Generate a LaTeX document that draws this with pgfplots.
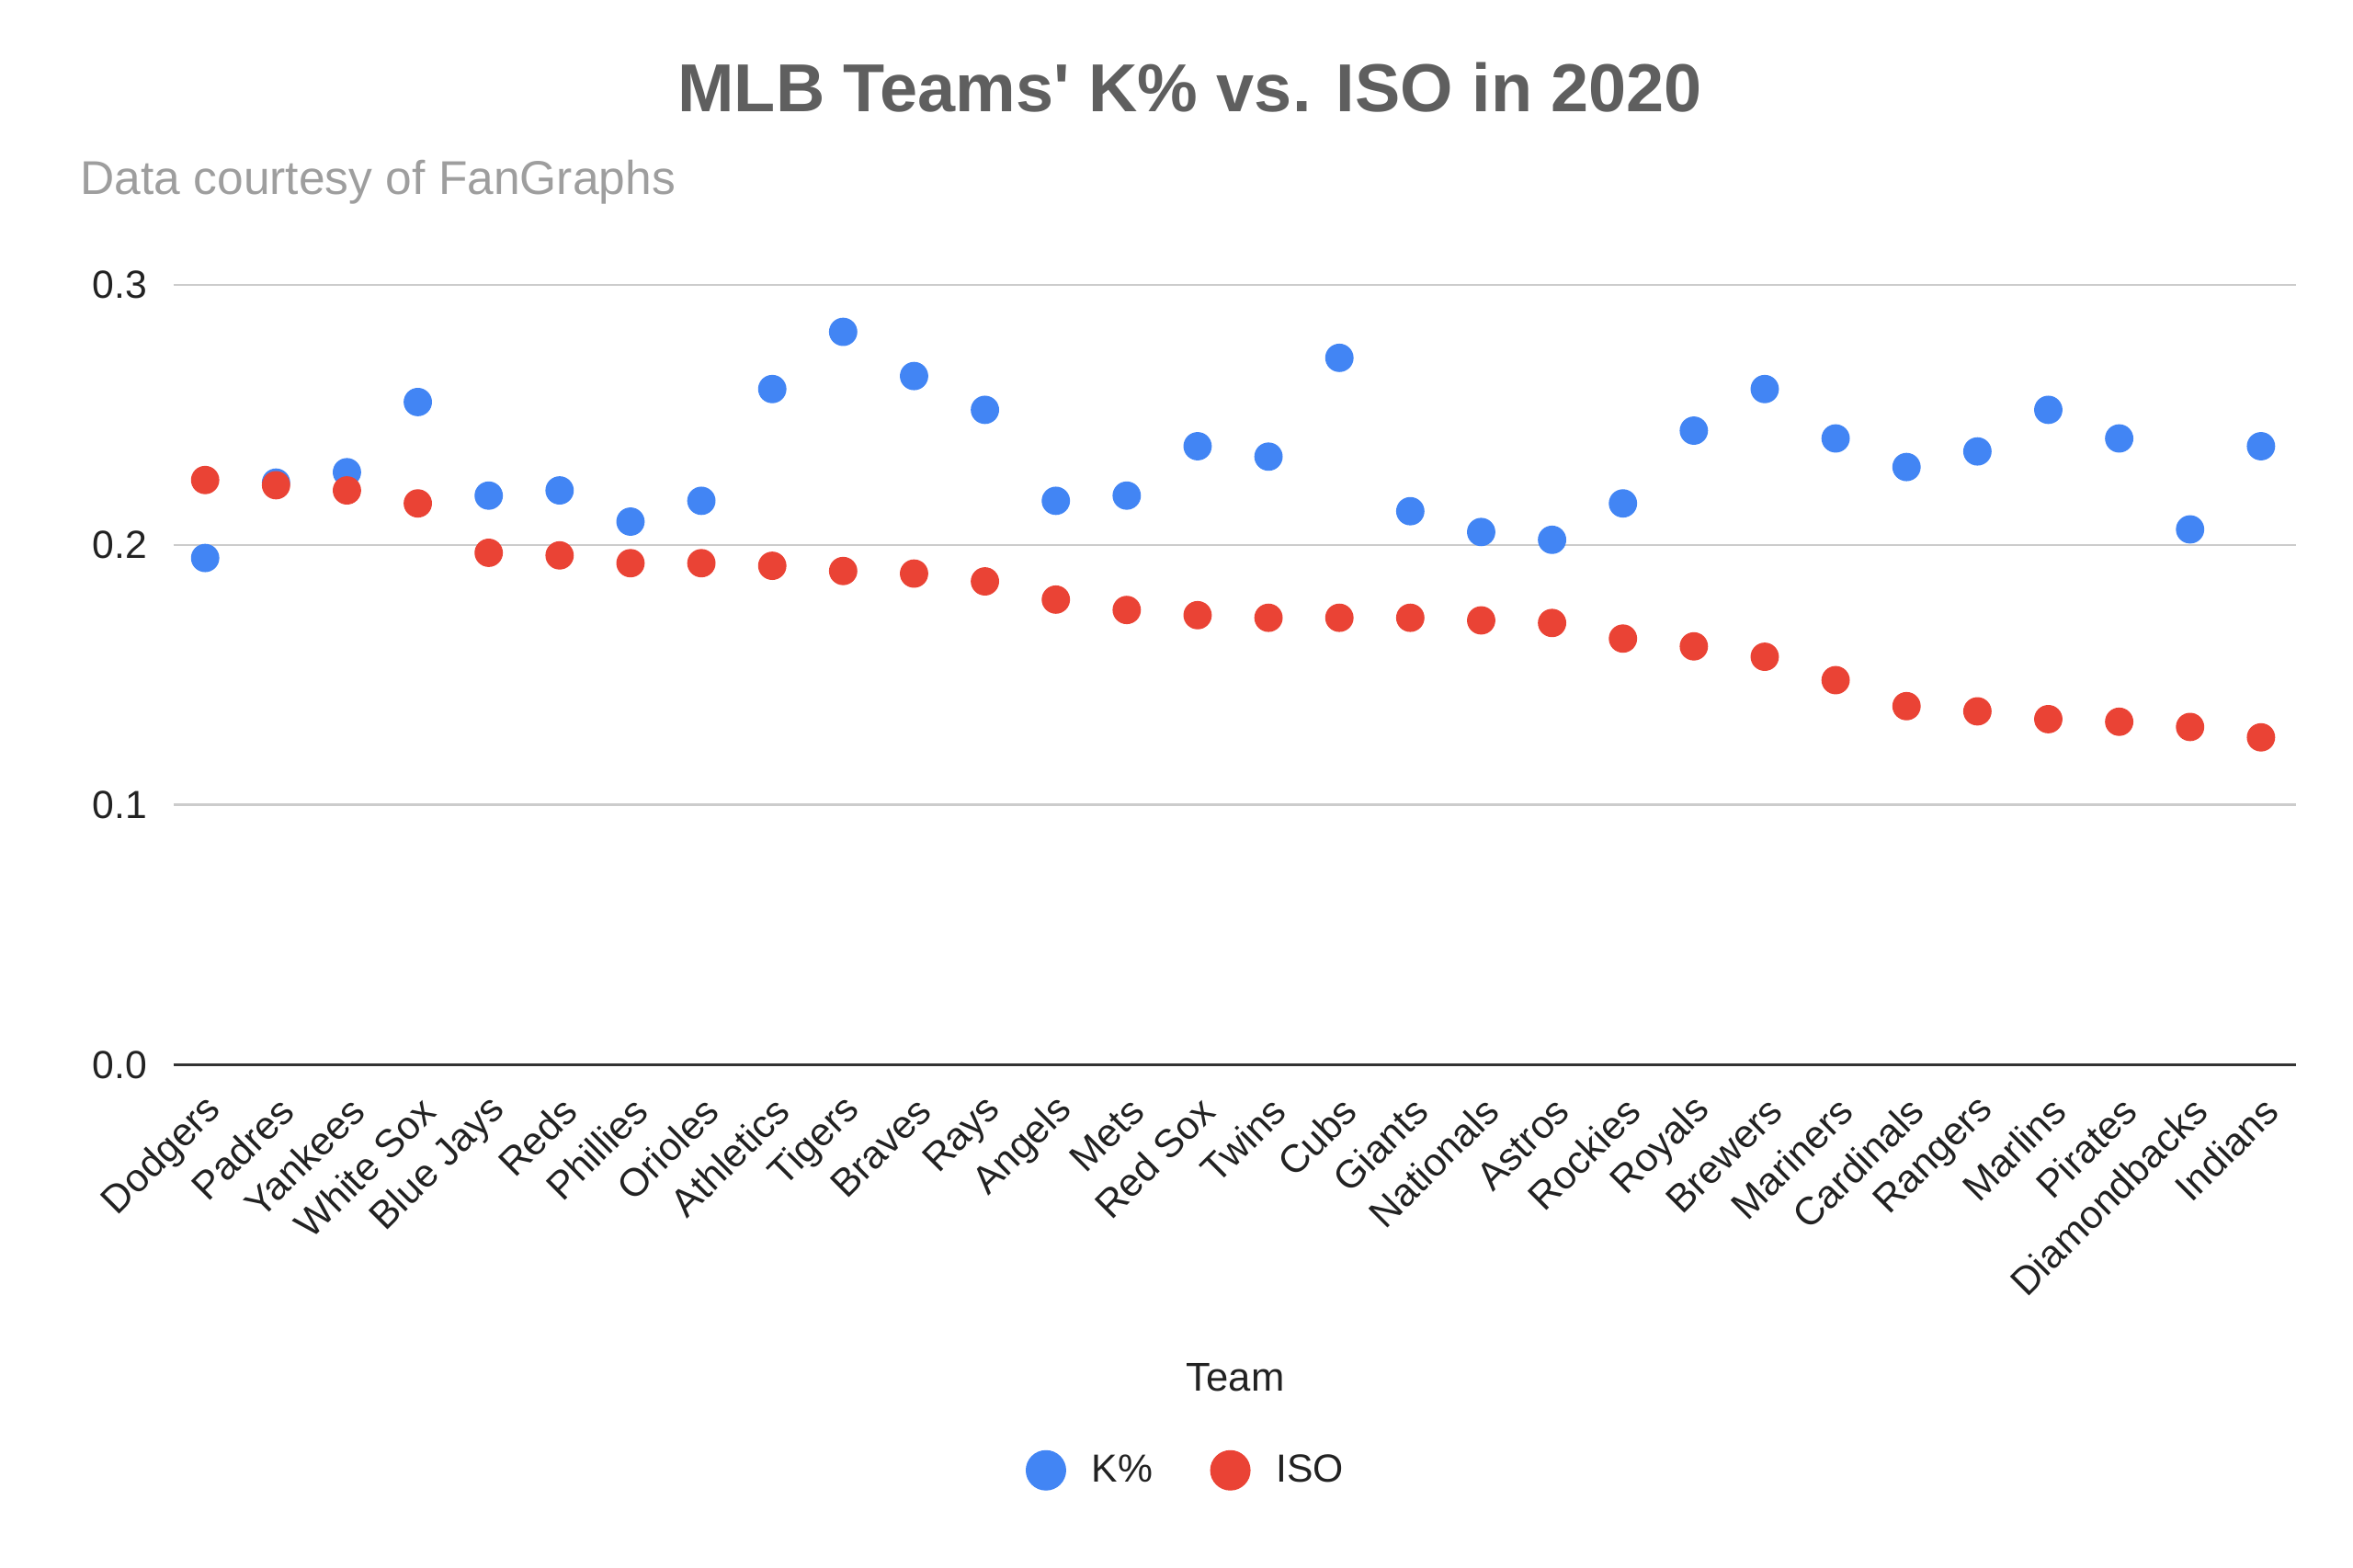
\documentclass[border=0pt]{standalone}
\usepackage{pgfplots}
\pgfplotsset{compat=1.18}
\usepackage{fontspec}
\setmainfont{Liberation Sans}
\newfontfamily\titlefont{Liberation Sans}[Ligatures=ResetAll]
\definecolor{gblue}{HTML}{4285F4}
\definecolor{gred}{HTML}{EA4335}
\definecolor{titlegray}{HTML}{5F5F5F}
\definecolor{subgray}{HTML}{9E9E9E}
\definecolor{txt}{HTML}{222222}
\definecolor{gridc}{HTML}{CCCCCC}
\definecolor{axc}{HTML}{333333}
\begin{document}
\begin{tikzpicture}
\path[use as bounding box] (-57.5bp,-166.5bp) rectangle (722.5bp,353bp);
\begin{axis}[
  at={(0,0)}, anchor=south west,
  scale only axis, width=703.5bp, height=258.5bp,
  xmin=-0.447, xmax=29.49, ymin=0, ymax=0.3,
  clip=false,
  axis x line*=bottom, axis y line*=left,
  x axis line style={draw=axc, line width=1.1pt, -},
  y axis line style={draw=none},
  major tick length=0pt,
  ytick={0,0.1,0.2,0.3},
  ymajorgrids, grid style={gridc, line width=0.8pt},
  yticklabel style={font=\fontsize{13bp}{15bp}\selectfont, text=txt, anchor=east, inner sep=0pt, xshift=-8.5bp},
  /pgf/number format/.cd, fixed, fixed zerofill, precision=1, assume math mode=true,
  /pgfplots/.cd,
  xtick={0,...,29},
  xticklabels={Dodgers,Padres,Yankees,White Sox,Blue Jays,Reds,Phillies,Orioles,Athletics,Tigers,Braves,Rays,Angels,Mets,Red Sox,Twins,Cubs,Giants,Nationals,Astros,Rockies,Royals,Brewers,Mariners,Cardinals,Rangers,Marlins,Pirates,Diamondbacks,Indians},
  xticklabel style={font=\fontsize{13bp}{15bp}\selectfont, text=txt, inner sep=0pt, xshift=3.5bp, yshift=-13bp, rotate=45, anchor=east},
  legend columns=2,
  legend style={draw=none, fill=none, inner sep=0pt, outer sep=0pt,
    at={(0.4016,-0.520)}, anchor=west,
    font=\fontsize{13bp}{15bp}\selectfont, text=txt,
    nodes={inner sep=0pt},
    /tikz/every odd column/.append style={column sep=8.5bp},
    /tikz/every even column/.append style={column sep=19bp}},
  legend image code/.code={\fill[#1] (0bp,0bp) circle (6.5bp);},
]
\addplot[only marks, mark=*, mark size=4.5bp, color=gblue, mark options={draw=none, fill=gblue}] coordinates {
(0,0.195) (1,0.224) (2,0.228) (3,0.255) (4,0.219) (5,0.221) (6,0.209) (7,0.217) (8,0.260) (9,0.282)
(10,0.265) (11,0.252) (12,0.217) (13,0.219) (14,0.238) (15,0.234) (16,0.272) (17,0.213) (18,0.205) (19,0.202)
(20,0.216) (21,0.244) (22,0.260) (23,0.241) (24,0.230) (25,0.236) (26,0.252) (27,0.241) (28,0.206) (29,0.238)
};
\addlegendentry{K\%}
\addplot[only marks, mark=*, mark size=4.5bp, color=gred, mark options={draw=none, fill=gred}] coordinates {
(0,0.225) (1,0.223) (2,0.221) (3,0.216) (4,0.197) (5,0.196) (6,0.193) (7,0.193) (8,0.192) (9,0.190)
(10,0.189) (11,0.186) (12,0.179) (13,0.175) (14,0.173) (15,0.172) (16,0.172) (17,0.172) (18,0.171) (19,0.170)
(20,0.164) (21,0.161) (22,0.157) (23,0.148) (24,0.138) (25,0.136) (26,0.133) (27,0.132) (28,0.130) (29,0.126)
};
\addlegendentry{ISO}
\end{axis}
\node[font=\titlefont\fontsize{22.5bp}{27bp}\selectfont\bfseries, text=titlegray, anchor=center] at (337bp,324bp) {MLB Teams' K\% vs. ISO in 2020};
\node[font=\fontsize{15.7bp}{19bp}\selectfont, text=subgray, anchor=west, inner sep=0pt] at (-31bp,292.5bp) {Data courtesy of FanGraphs};
\node[font=\fontsize{13.3bp}{16bp}\selectfont, text=txt, anchor=center] at (352bp,-103.5bp) {Team};
\end{tikzpicture}
\end{document}
